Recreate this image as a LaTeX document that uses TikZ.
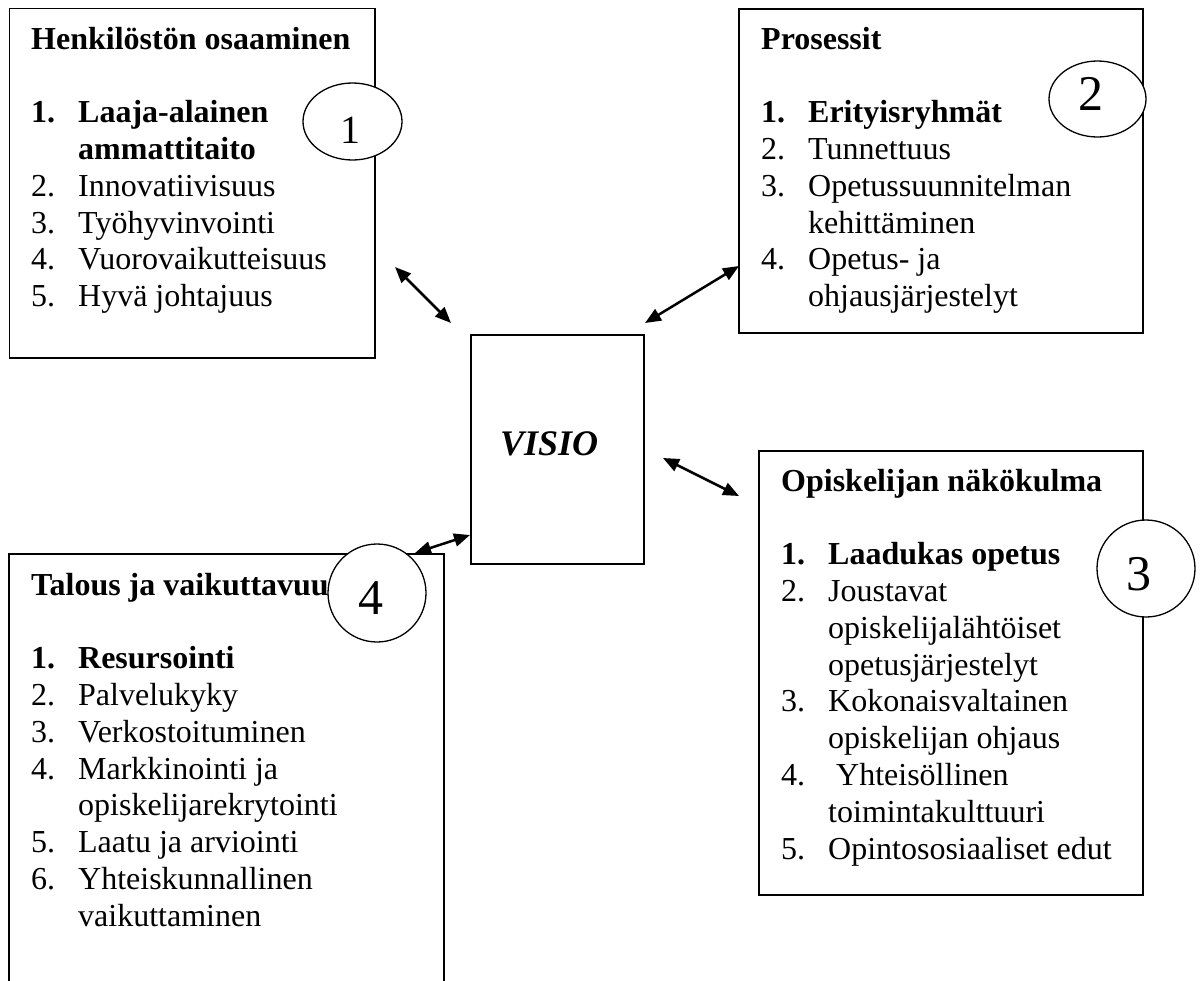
\documentclass[tikz,border=0pt]{standalone}
\usepackage{fontspec}
\setmainfont{Liberation Serif}
\usetikzlibrary{arrows.meta,shapes.geometric}
\begin{document}
\begin{tikzpicture}[x=1pt,y=-1pt,
  box/.style={draw=black,line width=1.6pt,inner sep=0pt,outer sep=0pt},
  lst/.style={anchor=base west,inner sep=0pt,font=\fontsize{32}{36.8}\selectfont},
  numcirc/.style={draw=black,line width=1.3pt,fill=white,ellipse,inner sep=0pt},
  digit/.style={inner sep=0pt,font=\fontsize{50}{56}\selectfont},
  arr/.style={{Triangle[length=16pt,width=13pt]}-{Triangle[length=16pt,width=13pt]},line width=2.5pt}
]
\useasboundingbox (0,0) rectangle (1202,980);
\fill[white] (0,0) rectangle (1202,980);
\clip (0,0) rectangle (1202,980);

% boxes
\node[box,minimum width=365.7pt,minimum height=349.7pt] (b1) at (192.2,183.2) {};
\node[box,minimum width=404pt,minimum height=324pt] (b2) at (941,171) {};
\node[box,minimum width=384pt,minimum height=444pt] (b3) at (951,673) {};
\node[box,minimum width=435pt,minimum height=446pt] (b4) at (226.5,777) {};
\node[box,minimum width=173pt,minimum height=229pt] (b0) at (557.5,449.5) {};

% texts
\node[lst] (t1) at (31,49) {\begin{tabular}[t]{@{}p{47pt}@{}l@{}}
\multicolumn{2}{@{}l@{}}{\textbf{Henkilöstön osaaminen}}\\
\\
\textbf{1.} & \textbf{Laaja-alainen}\\
 & \textbf{ammattitaito}\\
2. & Innovatiivisuus\\
3. & Työhyvinvointi\\
4. & Vuorovaikutteisuus\\
5. & Hyvä johtajuus
\end{tabular}};

\node[lst] (t2) at (761,49) {\begin{tabular}[t]{@{}p{47pt}@{}l@{}}
\multicolumn{2}{@{}l@{}}{\textbf{Prosessit}}\\
\\
\textbf{1.} & \textbf{Erityisryhmät}\\
2. & Tunnettuus\\
3. & Opetussuunnitelman\\
 & kehittäminen\\
4. & Opetus- ja\\
 & ohjausjärjestelyt
\end{tabular}};

\node[lst] (t3) at (781,491) {\begin{tabular}[t]{@{}p{47pt}@{}l@{}}
\multicolumn{2}{@{}l@{}}{\textbf{Opiskelijan näkökulma}}\\
\\
\textbf{1.} & \textbf{Laadukas opetus}\\
2. & Joustavat\\
 & opiskelijalähtöiset\\
 & opetusjärjestelyt\\
3. & Kokonaisvaltainen\\
 & opiskelijan ohjaus\\
4. & \hspace*{8pt}Yhteisöllinen\\
 & toimintakulttuuri\\
5. & Opintososiaaliset edut
\end{tabular}};

\node[lst] (t4) at (31,595) {\begin{tabular}[t]{@{}p{47pt}@{}l@{}}
\multicolumn{2}{@{}l@{}}{\textbf{Talous ja vaikuttavuus}}\\
\\
\textbf{1.} & \textbf{Resursointi}\\
2. & Palvelukyky\\
3. & Verkostoituminen\\
4. & Markkinointi ja\\
 & opiskelijarekrytointi\\
5. & Laatu ja arviointi\\
6. & Yhteiskunnallinen\\
 & vaikuttaminen
\end{tabular}};

\node[anchor=base west,inner sep=0pt,font=\fontsize{36}{40}\selectfont\bfseries\itshape] (v) at (500,455) {VISIO};

% numbered ellipses
\node[numcirc,minimum width=99pt,minimum height=77pt] (c1) at (352.5,121.5) {};
\node[numcirc,minimum width=97pt,minimum height=76pt] (c2) at (1097.5,99) {};
\node[numcirc,minimum width=98pt,minimum height=97pt] (c3) at (1146,568.5) {};
\node[numcirc,minimum width=98pt,minimum height=98pt] (c4) at (377,593) {};
\node[digit,font=\fontsize{40}{46}\selectfont] (d1) at (350,130) {1};
\node[digit] (d2) at (1091,94) {2};
\node[digit] (d3) at (1139,574) {3};
\node[digit] (d4) at (371,598) {4};

% arrows
\coordinate (a1s) at (395,267);
\coordinate (a1e) at (451,323);
\coordinate (a2s) at (645,323);
\coordinate (a2e) at (739,266);
\coordinate (a3s) at (663,458);
\coordinate (a3e) at (739,496);
\coordinate (a4s) at (415,553);
\coordinate (a4e) at (470,535);
\draw[arr] (a1s) -- (a1e);
\draw[arr] (a2s) -- (a2e);
\draw[arr] (a3s) -- (a3e);
\draw[arr] (a4s) -- (a4e);
\end{tikzpicture}
\end{document}
